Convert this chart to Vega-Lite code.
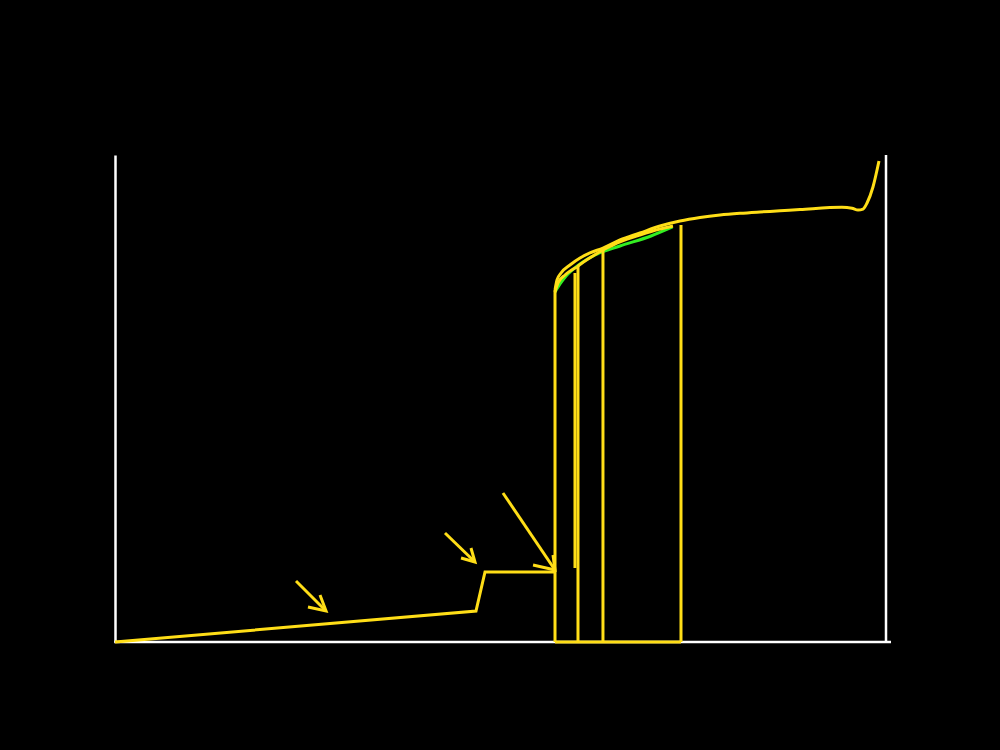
{
  "$schema": "https://vega.github.io/schema/vega-lite/v6.json",
  "width": 771,
  "height": 487,
  "autosize": {"type": "none"},
  "padding": {"left": 115, "top": 155, "right": 114, "bottom": 108},
  "background": "black",
  "config": {"view": {"stroke": null}},
  "data": {"values": [
    {"g":"lin","s":"base","o":1,"x":0,"y":0},
    {"g":"lin","s":"base","o":2,"x":46.82,"y":6.37},
    {"g":"lin","s":"base","o":3,"x":47.99,"y":14.37},
    {"g":"lin","s":"base","o":4,"x":57.07,"y":14.37},
    {"g":"lin","s":"bottom","o":1,"x":57.07,"y":0},
    {"g":"lin","s":"bottom","o":2,"x":73.41,"y":0},
    {"g":"lin","s":"v555","o":1,"x":57.07,"y":0},
    {"g":"lin","s":"v555","o":2,"x":57.07,"y":72.28},
    {"g":"lin","s":"v575","o":1,"x":59.66,"y":15.2},
    {"g":"lin","s":"v575","o":2,"x":59.66,"y":75.77},
    {"g":"lin","s":"v578","o":1,"x":60.05,"y":0},
    {"g":"lin","s":"v578","o":2,"x":60.05,"y":77.41},
    {"g":"lin","s":"v603","o":1,"x":63.29,"y":0},
    {"g":"lin","s":"v603","o":2,"x":63.29,"y":80.7},
    {"g":"lin","s":"v681","o":1,"x":73.41,"y":0},
    {"g":"lin","s":"v681","o":2,"x":73.41,"y":85.63},
    {"g":"lin","s":"a1s","o":1,"x":23.48,"y":12.53},
    {"g":"lin","s":"a1s","o":2,"x":27.37,"y":6.37},
    {"g":"lin","s":"a1h","o":1,"x":26.59,"y":9.65},
    {"g":"lin","s":"a1h","o":2,"x":27.37,"y":6.37},
    {"g":"lin","s":"a1h","o":3,"x":25.03,"y":7.19},
    {"g":"lin","s":"a2s","o":1,"x":42.8,"y":22.38},
    {"g":"lin","s":"a2s","o":2,"x":46.69,"y":16.43},
    {"g":"lin","s":"a2h","o":1,"x":46.17,"y":19.3},
    {"g":"lin","s":"a2h","o":2,"x":46.69,"y":16.43},
    {"g":"lin","s":"a2h","o":3,"x":44.88,"y":17.25},
    {"g":"lin","s":"a3s","o":1,"x":50.32,"y":30.6},
    {"g":"lin","s":"a3s","o":2,"x":57.07,"y":14.78},
    {"g":"lin","s":"a3h","o":1,"x":56.81,"y":17.86},
    {"g":"lin","s":"a3h","o":2,"x":57.07,"y":14.78},
    {"g":"lin","s":"a3h","o":3,"x":54.22,"y":15.81},
    {"g":"grn","s":"green","o":1,"x":57.07,"y":71.87},
    {"g":"grn","s":"green","o":2,"x":57.72,"y":73.51},
    {"g":"grn","s":"green","o":3,"x":58.5,"y":75.15},
    {"g":"grn","s":"green","o":4,"x":60.31,"y":77.62},
    {"g":"grn","s":"green","o":5,"x":62.26,"y":79.47},
    {"g":"grn","s":"green","o":6,"x":65.5,"y":81.31},
    {"g":"grn","s":"green","o":7,"x":69.52,"y":83.37},
    {"g":"grn","s":"green","o":8,"x":72.31,"y":85.22},
    {"g":"crv","s":"main","o":1,"x":57.07,"y":72.28},
    {"g":"crv","s":"main","o":2,"x":57.33,"y":74.33},
    {"g":"crv","s":"main","o":3,"x":57.85,"y":75.77},
    {"g":"crv","s":"main","o":4,"x":59.01,"y":77.41},
    {"g":"crv","s":"main","o":5,"x":60.31,"y":78.85},
    {"g":"crv","s":"main","o":6,"x":61.61,"y":79.88},
    {"g":"crv","s":"main","o":7,"x":63.29,"y":80.9},
    {"g":"crv","s":"main","o":8,"x":65.5,"y":82.55},
    {"g":"crv","s":"main","o":9,"x":68.09,"y":83.98},
    {"g":"crv","s":"main","o":10,"x":70.69,"y":85.42},
    {"g":"crv","s":"main","o":11,"x":73.28,"y":86.45},
    {"g":"crv","s":"main","o":12,"x":75.88,"y":87.17},
    {"g":"crv","s":"main","o":13,"x":78.47,"y":87.68},
    {"g":"crv","s":"main","o":14,"x":81.06,"y":88.03},
    {"g":"crv","s":"main","o":15,"x":83.66,"y":88.3},
    {"g":"crv","s":"main","o":16,"x":86.25,"y":88.54},
    {"g":"crv","s":"main","o":17,"x":88.85,"y":88.79},
    {"g":"crv","s":"main","o":18,"x":94.29,"y":89.26},
    {"g":"crv","s":"main","o":19,"x":95.59,"y":89.08},
    {"g":"crv","s":"main","o":20,"x":96.37,"y":88.7},
    {"g":"crv","s":"main","o":21,"x":97.02,"y":88.9},
    {"g":"crv","s":"main","o":22,"x":97.54,"y":90.14},
    {"g":"crv","s":"main","o":23,"x":98.31,"y":93.43},
    {"g":"crv","s":"main","o":24,"x":99.09,"y":98.77},
    {"g":"crv","s":"l1","o":1,"x":57.07,"y":71.87},
    {"g":"crv","s":"l1","o":2,"x":57.46,"y":73.72},
    {"g":"crv","s":"l1","o":3,"x":58.37,"y":75.36},
    {"g":"crv","s":"l1","o":4,"x":59.92,"y":77.0},
    {"g":"crv","s":"c","o":1,"x":60.05,"y":77.21},
    {"g":"crv","s":"c","o":2,"x":61.35,"y":78.64},
    {"g":"crv","s":"c","o":3,"x":63.29,"y":80.49},
    {"g":"crv","s":"d","o":1,"x":63.29,"y":80.49},
    {"g":"crv","s":"d","o":2,"x":65.5,"y":82.14},
    {"g":"crv","s":"d","o":3,"x":68.09,"y":83.57},
    {"g":"crv","s":"d","o":4,"x":70.69,"y":84.8},
    {"g":"crv","s":"d","o":5,"x":72.37,"y":85.42}
  ]},
  "encoding": {
    "x": {"field": "x", "type": "quantitative", "scale": {"domain": [0, 100], "nice": false, "zero": false},
          "axis": {"domain": false, "ticks": false, "labels": false, "grid": false, "title": null}},
    "y": {"field": "y", "type": "quantitative", "scale": {"domain": [0, 100], "nice": false, "zero": false},
          "axis": {"domainColor": "white", "domainWidth": 2.5, "ticks": false, "labels": false, "grid": false, "title": null}}
  },
  "layer": [
    {
      "data": {"values": [{"x": 100, "y": 0, "x2": 100, "y2": 100}, {"x": -0.1, "y": 0, "x2": 100.65, "y2": 0}]},
      "mark": {"type": "rule", "color": "white", "strokeWidth": 2.5},
      "encoding": {"x2": {"field": "x2"}, "y2": {"field": "y2"}}
    },
    {
      "transform": [{"filter": "datum.g === 'grn'"}],
      "mark": {"type": "line", "color": "#33ee22", "strokeWidth": 3, "interpolate": "monotone"},
      "encoding": {"detail": {"field": "s"}, "order": {"field": "o"}}
    },
    {
      "transform": [{"filter": "datum.g === 'crv'"}],
      "mark": {"type": "line", "color": "#ffde17", "strokeWidth": 3, "interpolate": "monotone"},
      "encoding": {"detail": {"field": "s"}, "order": {"field": "o"}}
    },
    {
      "transform": [{"filter": "datum.g === 'lin'"}],
      "mark": {"type": "line", "color": "#ffde17", "strokeWidth": 3},
      "encoding": {"detail": {"field": "s"}, "order": {"field": "o"}}
    }
  ]
}
